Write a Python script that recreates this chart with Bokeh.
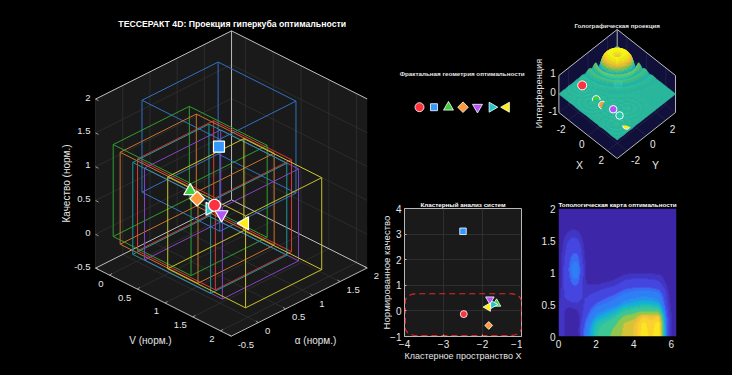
import numpy as np
from bokeh.plotting import figure
from bokeh.layouts import row, column
from bokeh.models import Range1d, FixedTicker, LinearColorMapper
from bokeh.core.properties import value
from bokeh.embed import file_html
from bokeh.resources import INLINE

FONT = "Liberation Sans"

# ---------- data ----------
systems = ["A", "B", "C", "D", "E", "F", "G"]
markers = ["circle", "square", "triangle", "square", "inverted_triangle", "triangle", "triangle"]
angles = [0, 0, 0, np.pi / 4, 0, -np.pi / 2, np.pi / 2]
colors = ["#ff3040", "#3399ff", "#3fcf3f", "#ff9a3c", "#b455f5", "#25c8c8", "#ffee10"]
edge_colors = ["#e03535", "#2f72c4", "#2f9e2f", "#c4742a", "#8444c4", "#1f9496", "#c9c428"]

V_vals = [0.99, 1.07, 0.66, 0.57, 1.40, 1.12, 1.68]
alpha_vals = [0.42, 0.42, 0.31, 0.53, 0.13, 0.20, 0.27]
quality_vals = [0.57, 1.47, 0.69, 0.45, 0.72, 0.66, 0.65]
box_half = [0.70, 0.70, 0.68]

cluster_x = [-2.48, -2.50, -1.64, -1.84, -1.81, -1.73, -1.86]
cluster_y = [-0.125, 3.11, 0.28, -0.57, 0.45, 0.25, 0.15]
cluster_box_x = [-3.98, -1.0]
cluster_box_y = [-0.96, 0.67]

fractal_pos = [1, 2, 3, 4, 5, 6, 7]

V_ticks = [0, 0.5, 1, 1.5, 2]
alpha_ticks = [-0.5, 0, 0.5, 1, 1.5, 2]
Q_ticks = [-0.5, 0, 0.5, 1, 1.5, 2]
V_lim = [-0.25, 2.19]
alpha_lim = [-0.5, 2.0]
Q_lim = [-0.5, 2.0]

holo_x = [-2.36, -1.8, -0.72, -0.03, 0.79, 1.52, 2.53]
holo_y = [-1.24, 1.9, -1.44, -1.48, -1.2, -1.28, -1.57]
holo_z = [0, -1, 0, 0, 0, 0, 0]
holo_centre = [-2.0, 2.0]
main_r = [0, .15, .3, .45, .6, .75, .9, 1.03, 1.13, 1.22, 1.33, 1.45, 1.56, 1.7, 1.9, 2.08, 2.28, 2.48, 2.68, 2.9, 3.1, 3.4, 3.8, 12]
main_z = [.36, .37, .42, .50, .50, .46, .40, .30, .12, -.08, -.25, -.08, .13, .10, -.05, .05, .07, -.01, -.04, .02, .02, -.01, 0, 0]
ripple_r = [0, .2, .4, .6, .8, 1.0, 1.2, 1.4, 1.7, 9]
ripple_z = [.04, .02, -.022, .025, -.022, .022, -.015, .01, 0, 0]
ripple_src = [(-2.2, -1.4), (0.9, -1.1), (1.5, -0.5), (-0.6, -1.9), (2.0, -2.1)]

heat_x = [0, .25, .5, .75, 1, 1.25, 1.5, 2, 2.5, 3, 3.5, 4, 4.5, 4.95, 5.35, 5.8, 6, 6.28]
heat_y = [0, .1, .2, .3, .4, .5, .65, .8, .95, 1.05, 1.25, 1.5, 1.7, 2]
heat_z = [
    [.06, .06, .0, .03, .0, .17, .34, .54, .62, .68, .78, .80, .94, .88, 1.0, .18, .05, 0],
    [.06, .06, .01, .01, .01, .16, .32, .53, .61, .67, .77, .80, .93, .87, .98, .18, .05, 0],
    [.06, .06, .01, .01, .01, .13, .27, .49, .56, .63, .76, .79, .92, .86, .95, .16, .05, 0],
    [.06, .06, .01, .01, .02, .10, .21, .39, .46, .54, .68, .72, .85, .82, .85, .14, .04, 0],
    [.06, .06, .02, .03, .05, .09, .15, .30, .36, .42, .53, .58, .63, .62, .60, .11, .04, 0],
    [.06, .08, .08, .09, .09, .09, .12, .21, .26, .31, .40, .43, .46, .45, .42, .09, .03, 0],
    [.02, .10, .13, .15, .14, .10, .09, .12, .16, .20, .27, .30, .32, .31, .28, .07, .02, 0],
    [.01, .10, .15, .20, .20, .09, .05, .05, .07, .09, .14, .16, .16, .15, .13, .04, .01, 0],
    [.01, .10, .18, .27, .28, .11, .02, 0, 0, .02, .06, .07, .07, .065, .06, .01, 0, 0],
    [.01, .10, .19, .29, .30, .12, .02, 0, 0, 0, 0, .01, .01, .01, 0, 0, 0, 0],
    [.01, .08, .16, .22, .22, .09, .01, 0, 0, 0, 0, 0, 0, 0, 0, 0, 0, 0],
    [0, .05, .10, .12, .11, .05, 0, 0, 0, 0, 0, 0, 0, 0, 0, 0, 0, 0],
    [0, .01, .03, .04, .03, .01, 0, 0, 0, 0, 0, 0, 0, 0, 0, 0, 0, 0],
    [0, 0, 0, 0, 0, 0, 0, 0, 0, 0, 0, 0, 0, 0, 0, 0, 0, 0],
]

PARULA = np.array([
    (0.2422, 0.1504, 0.6603), (0.2810, 0.3228, 0.9579), (0.1707, 0.5350, 0.9600),
    (0.0689, 0.6948, 0.8394), (0.2161, 0.7843, 0.5923), (0.6720, 0.7793, 0.2227),
    (0.9970, 0.7659, 0.2199), (0.9769, 0.9839, 0.0805)])


def parula(t):
    t = np.clip(np.asarray(t, float), 0, 1) * 7
    out = np.stack([np.interp(t, np.arange(8), PARULA[:, k]) for k in range(3)], axis=-1)
    return (out * 255).astype(int)


def hexes(rgb):
    return ["#%02x%02x%02x" % tuple(c) for c in rgb]


BG = "#000000"
PANEL = "#1a1a1a"
GRID = "#333333"
EDGE = "#b8b8b8"
TXT = "#e6e6e6"


def blank(w, h):
    p = figure(width=w, height=h, output_backend="svg", toolbar_location=None,
               x_range=Range1d(0, w), y_range=Range1d(0, h), min_border=0,
               background_fill_color=BG, border_fill_color=BG, outline_line_color=None)
    p.axis.visible = False
    p.grid.visible = False
    return p


def put(p, x, y, s, size, color=TXT, bold=False, align="center", angle=0.0):
    p.text([x], [y], text=[s], text_font=value(FONT), text_font_size=value(size), text_color=color,
           text_align=align, text_baseline="middle", angle=angle,
           text_font_style="bold" if bold else "normal")


# ---------- left: tesseract ----------
W0, H0 = 384, 359
left = blank(W0, H0)


def P(v, a, q):
    v, a, q = np.asarray(v, float), np.asarray(a, float), np.asarray(q, float)
    sx = 222.7 + (a + .5) * 54.4 - (2.19 - v) * 55.6
    sy = 327.7 - (a + .5) * 27.3 - (2.19 - v) * 27.9 - (q + .5) * 67.6
    return sx, H0 - sy


def seg3(p3, color, width=1.0, alpha=1.0):
    xs, ys = [], []
    for a, b in p3:
        x, y = P(*zip(a, b))
        xs.append(list(x))
        ys.append(list(y))
    left.multi_line(xs, ys, line_color=color, line_width=width, line_alpha=alpha)


v0, v1 = V_lim
a0, a1 = alpha_lim
q0, q1 = Q_lim
walls = [[(v0, a0, q1), (v0, a1, q1), (v0, a1, q0), (v0, a0, q0)],
         [(v0, a1, q1), (v1, a1, q1), (v1, a1, q0), (v0, a1, q0)],
         [(v0, a0, q0), (v0, a1, q0), (v1, a1, q0), (v1, a0, q0)]]
wx, wy = [], []
for w in walls:
    x, y = P(*zip(*w))
    wx.append(list(x))
    wy.append(list(y))
left.patches(wx, wy, fill_color=PANEL, line_color=None)

g = []
for v in V_ticks:
    g += [((v, a0, q0), (v, a1, q0)), ((v, a1, q0), (v, a1, q1))]
for a in alpha_ticks:
    g += [((v0, a, q0), (v1, a, q0)), ((v0, a, q0), (v0, a, q1))]
for q in Q_ticks:
    g += [((v0, a0, q), (v0, a1, q)), ((v0, a1, q), (v1, a1, q))]
seg3(g, GRID, 0.7)
seg3([((v0, a1, q1), (v0, a0, q1)), ((v0, a1, q1), (v1, a1, q1)), ((v0, a1, q0), (v0, a1, q1)),
      ((v0, a0, q0), (v0, a1, q0)), ((v0, a1, q0), (v1, a1, q0)),
      ((v0, a0, q0), (v1, a0, q0)), ((v1, a0, q0), (v1, a1, q0))], EDGE, 1.0)

for v, a, q, c in zip(V_vals, alpha_vals, quality_vals, edge_colors):
    hv, ha, hq = box_half
    vs, az, qs = (v - hv, v + hv), (a - ha, a + ha), (q - hq, q + hq)
    e = []
    for i in vs:
        for j in az:
            e.append(((i, j, qs[0]), (i, j, qs[1])))
    for i in vs:
        for k in qs:
            e.append(((i, az[0], k), (i, az[1], k)))
    for j in az:
        for k in qs:
            e.append(((vs[0], j, k), (vs[1], j, k)))
    seg3(e, c, 1.0)

sizes_main = [12, 11, 13, 10.5, 13, 13, 13]
for i in [1, 2, 3, 5, 0, 4, 6]:
    x, y = P(V_vals[i], alpha_vals[i], quality_vals[i])
    left.scatter([float(x)], [float(y)], marker=markers[i], size=sizes_main[i], angle=angles[i],
                 fill_color=colors[i], line_color="white", line_width=1.2)

for q in Q_ticks:
    x, y = P(v0, a0, q)
    put(left, float(x) - 5, float(y) + 1.5, ("%g" % q), "9.5px", align="right")
    left.segment([float(x)], [float(y)], [float(x) + 3], [float(y) - 1.5], line_color=EDGE, line_width=.8)
for v in V_ticks:
    x, y = P(v, a0, q0)
    put(left, float(x) - 6, float(y) - 8.5, ("%g" % v), "9.5px", align="right")
    left.segment([float(x)], [float(y)], [float(x) + 2.5], [float(y) + 1.5], line_color=EDGE, line_width=.8)
for a in alpha_ticks:
    x, y = P(v1, a, q0)
    put(left, float(x) + 6.5, float(y) - 8.5, ("%g" % a), "9.5px", align="left")
    left.segment([float(x)], [float(y)], [float(x) - 2.5], [float(y) + 1.5], line_color=EDGE, line_width=.8)
put(left, 223.7, H0 - 15.3, "ТЕССЕРАКТ 4D: Проекция гиперкуба оптимальности", "8.7px", "white", bold=True)
put(left, 58, H0 - 175, "Качество (норм.)", "10px", angle=np.pi / 2)
put(left, 142, H0 - 332, "V (норм.)", "10px")
put(left, 307, H0 - 332, "α (норм.)", "10px")
# y title of the cluster panel: it lies in the gutter between the two figures
put(left, 378, H0 - 264, "Нормированное качество", "9.6px", angle=np.pi / 2)

# ---------- middle top: fractal row ----------
W1, H1 = 135, 182
fx0 = -0.862
frac = figure(width=W1, height=H1, output_backend="svg", toolbar_location=None,
              x_range=Range1d(fx0, fx0 + W1 / 14.5), y_range=Range1d(-83.3, 98.7), min_border=0,
              background_fill_color=BG, border_fill_color=BG, outline_line_color=None)
frac.axis.visible = False
frac.grid.visible = False
sizes_frac = [9, 7, 10, 7.5, 10, 10, 10]
for i in range(7):
    frac.scatter([fractal_pos[i]], [0], marker=markers[i], size=sizes_frac[i], angle=angles[i],
                 fill_color=colors[i], line_color="white", line_width=.8)
frac.text([3.94], [34], text=["Фрактальная геометрия оптимальности"], text_font=value(FONT),
          text_font_size="6.25px", text_color=TXT, text_font_style="bold",
          text_align="center", text_baseline="middle")


def style_2d(p, xlabel=None):
    p.title.text_color = "white"
    p.title.text_font = FONT
    p.title.text_font_size = "6.25px"
    p.title.text_font_style = "bold"
    p.title.align = "center"
    p.title.standoff = 1
    p.title_location = "above"
    for ax in (p.xaxis[0], p.yaxis[0]):
        ax.major_label_text_color = TXT
        ax.major_label_text_font = FONT
        ax.major_label_text_font_size = "10px"
        ax.major_label_standoff = 3
        ax.major_tick_in = 2
        ax.major_tick_out = 0
        ax.minor_tick_line_color = None
        ax.major_tick_line_color = EDGE
        ax.axis_line_color = None
        ax.axis_label_text_color = TXT
        ax.axis_label_text_font = FONT
        ax.axis_label_text_font_size = "9px"
        ax.axis_label_text_font_style = "normal"
        ax.axis_label_standoff = 0
    if xlabel:
        p.xaxis[0].axis_label = xlabel


# ---------- middle bottom: cluster ----------
H2 = 177
clu = figure(width=W1 + 5, height=H2, output_backend="svg", toolbar_location=None, title="Кластерный анализ систем",
             x_range=Range1d(-4, -1), y_range=Range1d(-1, 4), background_fill_color=PANEL, border_fill_color=None,
             outline_line_color=EDGE, min_border_left=17, min_border_right=1, min_border_top=18, min_border_bottom=31,
             margin=(0, 0, 0, -5))
style_2d(clu, "Кластерное пространство X")
clu.xaxis[0].ticker = FixedTicker(ticks=[-4, -3, -2, -1])
clu.yaxis[0].ticker = FixedTicker(ticks=[-1, 0, 1, 2, 3, 4])
clu.grid.grid_line_color = GRID
clu.grid.grid_line_width = 0.8
rx, ry = 0.28, 0.30
th = np.linspace(0, np.pi / 2, 10)
bx0, bx1 = cluster_box_x
by0, by1 = cluster_box_y
xs = np.concatenate([bx1 - rx + rx * np.cos(th), bx0 + rx - rx * np.sin(th), bx0 + rx - rx * np.cos(th),
                     bx1 - rx + rx * np.sin(th), [bx1]])
ys = np.concatenate([by1 - ry + ry * np.sin(th), by1 - ry + ry * np.cos(th), by0 + ry - ry * np.sin(th),
                     by0 + ry - ry * np.cos(th), [by1 - ry]])
clu.line(xs, ys, line_color="#e8262e", line_width=1.2, line_dash="6 4")
sizes_clu = [7, 6.5, 8.5, 5.5, 8.5, 8.5, 8.5]
for i in [0, 1, 3, 2, 5, 4, 6]:
    clu.scatter([cluster_x[i]], [cluster_y[i]], marker=markers[i], size=sizes_clu[i], angle=angles[i],
                fill_color=colors[i], line_color="white", line_width=.8)

# ---------- right top: hologram ----------
W2, H3 = 197, 182
OX = 527
holo = blank(W2, H3)


def H(x, y, z):
    x, y, z = np.asarray(x, float), np.asarray(y, float), np.asarray(z, float)
    return 616.7 - OX + (x + y) * 9.72, H3 - (85.5 + (x - y) * 7.67 - z * 18.5)


def patch3(pts, color):
    x, y = H(*zip(*pts))
    holo.patch(list(x), list(y), fill_color=color, line_color=None)


navy = "#10103a"
patch3([(-3, -3, 1), (-3, 3, 1), (-3, 3, -1), (-3, -3, -1)], navy)
patch3([(-3, 3, 1), (3, 3, 1), (3, 3, -1), (-3, 3, -1)], navy)
patch3([(-3, -3, -1), (-3, 3, -1), (3, 3, -1), (3, -3, -1)], navy)
gs = []
for t in [-2, 0, 2]:
    gs += [((t, -3, -1), (t, 3, -1)), ((-3, t, -1), (3, t, -1)), ((t, 3, -1), (t, 3, 1)), ((-3, t, -1), (-3, t, 1))]
for z in [-1, 0, 1]:
    gs += [((-3, -3, z), (-3, 3, z)), ((-3, 3, z), (3, 3, z))]
for a, b in gs:
    x, y = H(*zip(a, b))
    holo.line(list(x), list(y), line_color="#2a2a55", line_width=.6)
for a, b in [((-3, -3, 1), (-3, 3, 1)), ((-3, 3, 1), (3, 3, 1)), ((-3, 3, 1), (-3, 3, -1)),
             ((-3, -3, 1), (-3, -3, -1)), ((3, 3, 1), (3, 3, -1)),
             ((-3, -3, -1), (3, -3, -1)), ((3, -3, -1), (3, 3, -1))]:
    x, y = H(*zip(a, b))
    holo.line(list(x), list(y), line_color=EDGE, line_width=1.0)

# the point of system B sits behind the central bump, so it goes below the surface
x, y = H(holo_x[1], holo_y[1], holo_z[1])
holo.scatter([float(x)], [float(y)], marker="circle", size=8, fill_color=colors[1], line_color="white")

N = 84
gx = np.linspace(-3, 3, N + 1)
X, Y = np.meshgrid(gx, gx, indexing="ij")
u = ((X - holo_centre[0]) + (Y - holo_centre[1])) / np.sqrt(2)
w = ((X - holo_centre[0]) - (Y - holo_centre[1])) / np.sqrt(2) * 1.25
Z = np.interp(np.hypot(u, w), main_r, main_z)
for sx_, sy_ in ripple_src:
    uu = ((X - sx_) + (Y - sy_)) / np.sqrt(2)
    ww = ((X - sx_) - (Y - sy_)) / np.sqrt(2) * 1.25
    Z = Z + np.interp(np.hypot(uu, ww), ripple_r, ripple_z)
q_i, q_j = np.meshgrid(np.arange(N), np.arange(N), indexing="ij")
order = np.argsort((X[q_i, q_j] - Y[q_i, q_j]).ravel())
fi, fj = q_i.ravel()[order], q_j.ravel()[order]
cz = (Z[fi, fj] + Z[fi + 1, fj] + Z[fi, fj + 1] + Z[fi + 1, fj + 1]) / 4
qc = hexes(parula(0.54 + cz * 0.95))
qx, qy = [], []
for i, j in zip(fi, fj):
    a = [(i, j), (i + 1, j), (i + 1, j + 1), (i, j + 1)]
    sx, sy = H([X[k] for k in a], [Y[k] for k in a], [Z[k] for k in a])
    qx.append(sx.tolist())
    qy.append(sy.tolist())
holo.patches(qx, qy, fill_color=qc, line_color=qc, line_width=.4)

for i, arc in zip(range(7), [None, "skip", (-0.1, np.pi + .3), (np.pi / 3, np.pi * 1.4), None, None, (np.pi, np.pi * 1.85)]):
    if arc == "skip":
        continue
    x, y = H(holo_x[i], holo_y[i], holo_z[i])
    x, y = float(x), float(y)
    if arc is None:
        fill = "#25c8a8" if i == 5 else colors[i]
        holo.scatter([x], [y], marker="circle", size=7.5 if i != 0 else 9, fill_color=fill, line_color="white", line_width=1)
    else:
        holo.wedge([x], [y], radius=3.6, start_angle=arc[0], end_angle=arc[1], fill_color=colors[i], line_color=None)
        holo.arc([x], [y], radius=3.9, start_angle=arc[0], end_angle=arc[1], line_color="white", line_width=1)

put(holo, 616.7 - OX, H3 - 17, "Голографическая проекция", "6.25px", TXT, bold=True)
for t, iy in zip(["1", "0", "-1"], [72, 91, 110]):
    put(holo, 552.5 - OX, H3 - (iy - 8), t, "10px", align="center")
for t, ix, iy in [("-2", 560.7, 128), ("0", 581.3, 143), ("2", 600.7, 159), ("-2", 635, 159), ("0", 652.3, 143), ("2", 672, 128)]:
    put(holo, ix - OX, H3 - (iy - 8), t, "10px")
put(holo, 579 - OX, H3 - (164 - 8), "X", "10.5px")
put(holo, 655 - OX, H3 - (164 - 8), "Y", "10.5px")
put(holo, 538.5 - OX, H3 - (93 - 8), "Интерференция", "9.2px", angle=np.pi / 2)

# ---------- right bottom: heat map ----------
hm = figure(width=W2, height=H2, output_backend="svg", toolbar_location=None, title="Топологическая карта оптимальности",
            x_range=Range1d(0, 6.28), y_range=Range1d(0, 2), background_fill_color=BG, border_fill_color=BG,
            outline_line_color=None, min_border_left=31, min_border_right=48, min_border_top=18, min_border_bottom=31)
style_2d(hm)
hm.xaxis[0].ticker = FixedTicker(ticks=[0, 2, 4, 6])
hm.yaxis[0].ticker = FixedTicker(ticks=[0, .5, 1, 1.5, 2])
hm.yaxis[0].major_label_overrides = {0: "0", 0.5: "0.5", 1: "1", 1.5: "1.5", 2: "2"}
hm.xaxis[0].major_tick_line_color = None
hm.yaxis[0].major_tick_line_color = None
hm.grid.visible = False
xi = np.linspace(0, 6.28, 236)
yi = np.linspace(0, 2, 256)
Hz = np.array(heat_z)
a1_ = np.array([np.interp(xi, heat_x, r) for r in Hz])
a2_ = np.array([np.interp(yi, heat_y, c) for c in a1_.T]).T
kernel = np.ones(7) / 7
pad = np.pad(a2_, 3, mode="edge")
pad = np.apply_along_axis(lambda m: np.convolve(m, kernel, mode="same"), 0, pad)
pad = np.apply_along_axis(lambda m: np.convolve(m, kernel, mode="same"), 1, pad)
smooth = pad[3:-3, 3:-3]
nb = 20
band = np.floor(np.clip(smooth, 0, .999) * nb) / nb
pal = hexes(parula(np.linspace(0, 1, nb)))
hm.image(image=[band], x=0, y=0, dw=6.28, dh=2, color_mapper=LinearColorMapper(palette=pal, low=0, high=1))

layout = row(left, column(row(frac), row(clu), spacing=0), column(row(holo), row(hm), spacing=0), spacing=0)
html = file_html(layout, INLINE, title="")
html = html.replace("<body>", '<body style="margin:0;padding:8px;background:#000000">')
open("out.html", "w").write(html)
